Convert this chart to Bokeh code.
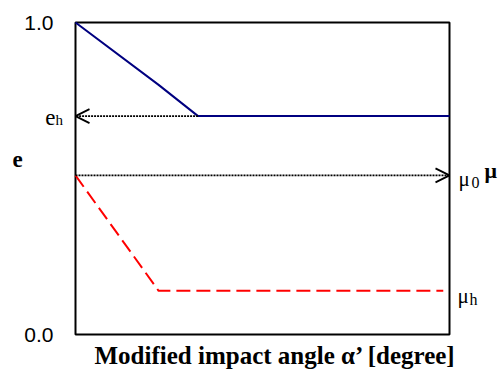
from bokeh.plotting import figure
from bokeh.models import Range1d, Label, Arrow, OpenHead
from bokeh.embed import file_html
from bokeh.resources import INLINE

# ---- data ----
angle_e = [0, 20, 29.5, 90]          # modified impact angle (deg)
e_vals = [1.0, 0.80, 0.70, 0.70]     # restitution coefficient e
angle_mu = [0, 20, 88.5]
mu_vals = [0.51, 0.14, 0.14]         # friction coefficient mu
x_domain = [0, 90]
y_ticks = [0.0, 1.0]
y_tick_labels = ["0.0", "1.0"]
x_title = "Modified impact angle \u03b1\u2019 [degree]"

e_h = e_vals[-1]
mu_0 = mu_vals[0]
mu_h = mu_vals[-1]

# layout: plotting box spans pixels 75..449 (x) and 22..334 (y) of a 504x372 canvas
W, H = 504, 372
BL, BR, BT, BB = 75, 449, 22, 334
xs = (x_domain[1] - x_domain[0]) / (BR - BL)
ys = 1.0 / (BB - BT)
x_range = Range1d(x_domain[0] - BL * xs, x_domain[1] + (W - BR) * xs)
y_range = Range1d(0 - (H - BB) * ys, 1 + BT * ys)

p = figure(width=W, height=H, output_backend="svg", toolbar_location=None,
           x_range=x_range, y_range=y_range, min_border=0)
p.background_fill_color = "white"
p.border_fill_color = "white"
p.outline_line_color = None
p.grid.visible = False
p.axis.visible = False

# plotting box
p.quad(left=[x_domain[0]], right=[x_domain[1]], bottom=[y_ticks[0]], top=[y_ticks[1]],
       fill_color=None, line_color="black", line_width=2)

p.line(angle_e, e_vals, line_color="#000080", line_width=2)
p.line(angle_mu, mu_vals, line_color="#ff0000", line_width=2, line_dash="14 6")

p.add_layout(Arrow(x_start=angle_e[2], y_start=e_h, x_end=x_domain[0], y_end=e_h,
                   line_color="black", line_width=1.6, line_dash="2 1",
                   end=OpenHead(size=14, line_width=1.8, line_color="black")))
p.add_layout(Arrow(x_start=x_domain[0], y_start=mu_0, x_end=x_domain[1], y_end=mu_0,
                   line_color="black", line_width=1.6, line_dash="2 1",
                   end=OpenHead(size=14, line_width=1.8, line_color="black")))

SERIF = "Liberation Serif"
SANS = "Liberation Sans"

def lab(text, x, y, xo, yo, size, align="left", style="normal", base="alphabetic", font=SERIF):
    p.add_layout(Label(x=x, y=y, x_offset=xo, y_offset=yo, text=text,
                       text_font=font, text_font_size=size, text_font_style=style,
                       text_align=align, text_baseline=base, text_color="black"))

# y tick labels
for t, s in zip(y_ticks, y_tick_labels):
    lab(s, x_domain[0], t, -22, 0, "21px", align="right", base="middle", font=SANS)

# axis names "e" (left) and "mu" (right)
lab("e", x_domain[0], 0.56, -58, 0, "23px", align="center", style="bold", base="middle")
lab("\u03bc", x_domain[1], mu_0, 35, 5, "22px", style="bold")
# e_h
lab("e", x_domain[0], e_h, -20, -1, "23px", align="right")
lab("h", x_domain[0], e_h, -20, -4, "15px")
# mu_0
lab("\u03bc", x_domain[1], mu_0, 9, -4, "21px")
lab("0", x_domain[1], mu_0, 22, -7, "16px")
# mu_h
lab("\u03bc", x_domain[1], mu_h, 8, -5, "21px")
lab("h", x_domain[1], mu_h, 20, -9, "16px")
# x title
lab(x_title, (x_domain[0] + x_domain[1]) / 2, 0, 13, -21, "25px", align="center", style="bold")

open("out.html", "w").write(file_html(p, INLINE))
